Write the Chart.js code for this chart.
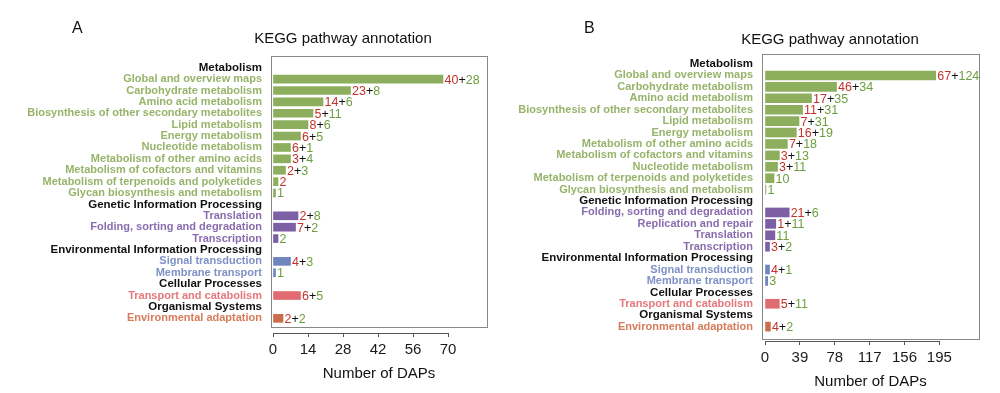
<!DOCTYPE html>
<html>
<head>
<meta charset="utf-8">
<script src="https://cdn.jsdelivr.net/npm/chart.js@4.4.0/dist/chart.umd.min.js"></script>
<style>
  body { margin: 0; background: #fff; }
  .panel { position: absolute; top: 0; width: 500px; height: 393px; }
</style>
</head>
<body>
<div class="panel" style="left:0"><canvas id="chartA" width="500" height="393"></canvas></div>
<div class="panel" style="left:500px"><canvas id="chartB" width="500" height="393"></canvas></div>
<script>
const FONT = '"Liberation Sans", Arial, sans-serif';

// Panel A: rows with no counts are the group headers
const labelsA = ['Metabolism', 'Global and overview maps', 'Carbohydrate metabolism', 'Amino acid metabolism',
  'Biosynthesis of other secondary metabolites', 'Lipid metabolism', 'Energy metabolism', 'Nucleotide metabolism',
  'Metabolism of other amino acids', 'Metabolism of cofactors and vitamins', 'Metabolism of terpenoids and polyketides',
  'Glycan biosynthesis and metabolism', 'Genetic Information Processing', 'Translation', 'Folding, sorting and degradation',
  'Transcription', 'Environmental Information Processing', 'Signal transduction', 'Membrane transport',
  'Cellular Processes', 'Transport and catabolism', 'Organismal Systems', 'Environmental adaptation'];
const upA   = [null, 40, 23, 14, 5, 8, 6, 6, 3, 2, 2, null, null, 2, 7, null, null, 4, null, null, 6, null, 2];
const downA = [null, 28, 8, 6, 11, 6, 5, 1, 4, 3, null, 1, null, 8, 2, 2, null, 3, 1, null, 5, null, 2];
const ticksA = [0, 14, 28, 42, 56, 70];

// Panel B
const labelsB = ['Metabolism', 'Global and overview maps', 'Carbohydrate metabolism', 'Amino acid metabolism',
  'Biosynthesis of other secondary metabolites', 'Lipid metabolism', 'Energy metabolism',
  'Metabolism of other amino acids', 'Metabolism of cofactors and vitamins', 'Nucleotide metabolism',
  'Metabolism of terpenoids and polyketides', 'Glycan biosynthesis and metabolism', 'Genetic Information Processing',
  'Folding, sorting and degradation', 'Replication and repair', 'Translation', 'Transcription',
  'Environmental Information Processing', 'Signal transduction', 'Membrane transport', 'Cellular Processes',
  'Transport and catabolism', 'Organismal Systems', 'Environmental adaptation'];
const upB   = [null, 67, 46, 17, 11, 7, 16, 7, 3, 3, null, null, null, 21, 1, null, 3, null, 4, null, null, 5, null, 4];
const downB = [null, 124, 34, 35, 31, 31, 19, 18, 13, 11, 10, 1, null, 6, 11, 11, 2, null, 1, 3, null, 11, null, 2];
const ticksB = [0, 39, 78, 117, 156, 195];

// colours per top level group
const groupColors = {
  'Metabolism': { bar: '#8dae5c', text: '#97b46a' },
  'Genetic Information Processing': { bar: '#7d5fa5', text: '#8a6cae' },
  'Environmental Information Processing': { bar: '#7085be', text: '#7f91c6' },
  'Cellular Processes': { bar: '#e06c72', text: '#e5787d' },
  'Organismal Systems': { bar: '#cd6c4b', text: '#d67c5b' }
};
const RED = '#c4322b';
const GREEN = '#6e9e3e';

function makePanel(p) {
  const isHeader = (i) => p.up[i] == null && p.down[i] == null;
  // group of a row = the header above it
  const groupOf = [];
  let current = null;
  p.labels.forEach((l, i) => {
    if (isHeader(i)) current = l;
    groupOf.push(current);
  });

  const rows = [];
  p.labels.forEach((l, i) => {
    if (!isHeader(i)) rows.push({ x: (p.up[i] || 0) + (p.down[i] || 0), y: i });
  });

  const decor = {
    id: 'decor',
    afterDatasetsDraw(chart) {
      const ctx = chart.ctx;
      const meta = chart.getDatasetMeta(0);
      ctx.save();
      ctx.font = '12.5px ' + FONT;
      ctx.textBaseline = 'middle';
      ctx.textAlign = 'left';
      meta.data.forEach((el, k) => {
        const i = rows[k].y;
        let x = el.x + 1.5;
        const y = el.y + 1;
        const parts = [];
        if (p.up[i] != null) parts.push([String(p.up[i]), RED]);
        if (p.up[i] != null && p.down[i] != null) parts.push(['+', '#111']);
        if (p.down[i] != null) parts.push([String(p.down[i]), GREEN]);
        parts.forEach(([t, c]) => {
          ctx.fillStyle = c;
          ctx.fillText(t, x, y);
          x += ctx.measureText(t).width;
        });
      });
      ctx.restore();
    },
    afterDraw(chart) {
      const ctx = chart.ctx;
      const a = chart.chartArea;
      const xs = chart.scales.x;
      ctx.save();
      // plot box
      ctx.strokeStyle = '#888';
      ctx.lineWidth = 1;
      ctx.strokeRect(Math.round(a.left) + 0.5, Math.round(a.top) + 0.5,
        Math.round(a.right - a.left), Math.round(a.bottom - a.top - p.boxGap));
      // axis line spanning the ticks only
      ctx.strokeStyle = '#555';
      ctx.beginPath();
      ctx.moveTo(xs.getPixelForValue(p.ticks[0]), Math.round(a.bottom) + 0.5);
      ctx.lineTo(xs.getPixelForValue(p.ticks[p.ticks.length - 1]), Math.round(a.bottom) + 0.5);
      ctx.stroke();
      // title and panel letter
      ctx.fillStyle = '#111';
      ctx.textBaseline = 'alphabetic';
      ctx.textAlign = 'center';
      ctx.font = '15px ' + FONT;
      ctx.fillText('KEGG pathway annotation', p.titleX, p.titleY);
      ctx.textAlign = 'left';
      ctx.font = '16px ' + FONT;
      ctx.fillText(p.letter, p.letterX, p.letterY);
      ctx.restore();
    }
  };

  return new Chart(document.getElementById(p.id), {
    type: 'bar',
    data: {
      datasets: [{
        data: rows,
        backgroundColor: (c) => groupColors[groupOf[c.raw.y]].bar,
        barThickness: p.barThickness,
        borderWidth: 0
      }]
    },
    options: {
      indexAxis: 'y',
      responsive: false,
      animation: false,
      layout: { padding: { left: 0, top: p.area.top, right: 500 - p.area.right, bottom: 0 } },
      plugins: { legend: { display: false }, tooltip: { enabled: false }, title: { display: false } },
      scales: {
        y: {
          type: 'linear',
          reverse: true,
          offset: false,
          min: p.yMin,
          max: p.yMax,
          afterBuildTicks: (axis) => { axis.ticks = p.labels.map((l, i) => ({ value: i })); },
          afterFit: (axis) => { axis.width = p.area.left; },
          grid: { display: false, drawTicks: false, offset: false },
          border: { display: false },
          ticks: {
            autoSkip: false,
            padding: 9,
            callback: (v) => p.labels[v],
            color: (c) => isHeader(c.index) ? '#111' : groupColors[groupOf[c.index]].text,
            font: (c) => ({ family: FONT, weight: 'bold', size: isHeader(c.index) ? 11.5 : 11, lineHeight: 1 })
          }
        },
        x: {
          type: 'linear',
          min: p.xMin,
          max: p.xMax,
          afterBuildTicks: (axis) => { axis.ticks = p.ticks.map((v) => ({ value: v })); },
          afterFit: (axis) => { axis.height = 393 - p.area.bottom; },
          grid: { display: true, drawOnChartArea: false, drawTicks: true, tickLength: 4, color: '#555' },
          border: { display: false },
          ticks: { padding: 4, color: '#1a1a1a', font: { family: FONT, size: 15 } },
          title: {
            display: true,
            text: 'Number of DAPs',
            color: '#111',
            font: { family: FONT, size: 15 },
            padding: { top: 0, bottom: p.xTitlePad }
          }
        }
      }
    },
    plugins: [decor]
  });
}

makePanel({
  id: 'chartA', letter: 'A', labels: labelsA, up: upA, down: downA, ticks: ticksA,
  xMin: -0.8, xMax: 85.6, yMin: -1.03, yMax: 23.29,
  area: { left: 271, right: 487, top: 56, bottom: 333 }, boxGap: 6, barThickness: 8,
  titleX: 343, titleY: 43, letterX: 72, letterY: 33, xTitlePad: 10
});

makePanel({
  id: 'chartB', letter: 'B', labels: labelsB, up: upB, down: downB, ticks: ticksB,
  xMin: -3.4, xMax: 239.4, yMin: -0.88, yMax: 24.26,
  area: { left: 262, right: 479, top: 54, bottom: 341 }, boxGap: 2, barThickness: 9,
  titleX: 330, titleY: 44, letterX: 84, letterY: 33, xTitlePad: 2
});
</script>
</body>
</html>
